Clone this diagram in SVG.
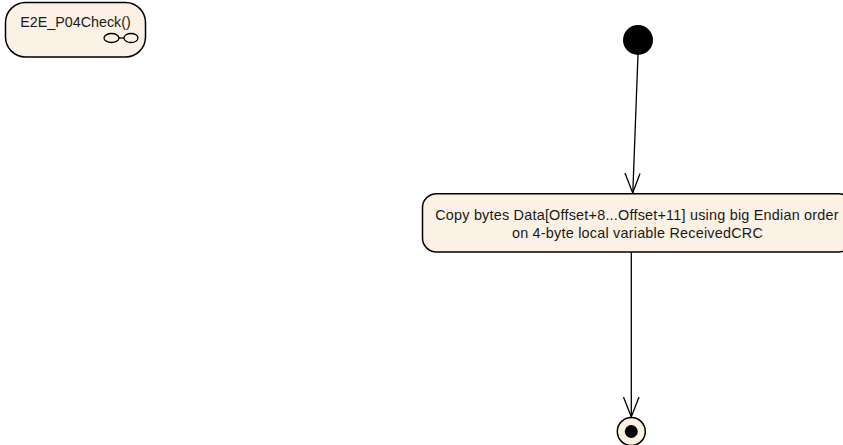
<svg xmlns="http://www.w3.org/2000/svg" width="843" height="445" viewBox="0 0 843 445">
<style>
.n{fill:#fbf1e4;stroke:#000;stroke-width:1.5}
.t{font-family:"Liberation Sans",Arial,sans-serif;font-size:14.4px;letter-spacing:.22px;fill:#1a1a1a;text-anchor:middle}
.c{fill:none;stroke:#000;stroke-width:1.3}
</style>
<rect width="843" height="445" fill="#fff"/>
<g id="connectors">
<path class="c" d="M638 54L632.800 193"/>
<path class="c" d="M625 173L632.700 193L640 173.500"/>
<path class="c" d="M631.300 252V417"/>
<path class="c" d="M623.500 397L631.300 417L639 397"/>
</g>
<g id="node-e2e">
<rect class="n" x="5.500" y="2.500" width="140" height="54.500" rx="20" ry="20"/>
<text class="t" x="75.500" y="27" style="font-size:14.300px;letter-spacing:0">E2E_P04Check()</text>
<g class="c"><ellipse cx="111.500" cy="38" rx="7.500" ry="4.500"/><ellipse cx="131" cy="38" rx="7" ry="4.500"/><path d="M119 38H124"/></g>
</g>
<g id="node-start"><circle cx="638" cy="40" r="15"/></g>
<g id="node-copy">
<rect class="n" x="422.500" y="193.700" width="430" height="58.300" rx="14" ry="14"/>
<text class="t" x="637" y="220">Copy bytes Data[Offset+8...Offset+11] using big Endian order</text>
<text class="t" x="637.500" y="238">on 4-byte local variable ReceivedCRC</text>
</g>
<g id="node-end">
<circle class="n" cx="631.300" cy="431.500" r="14"/>
<circle cx="631.300" cy="431.500" r="6.500"/>
</g>
</svg>
